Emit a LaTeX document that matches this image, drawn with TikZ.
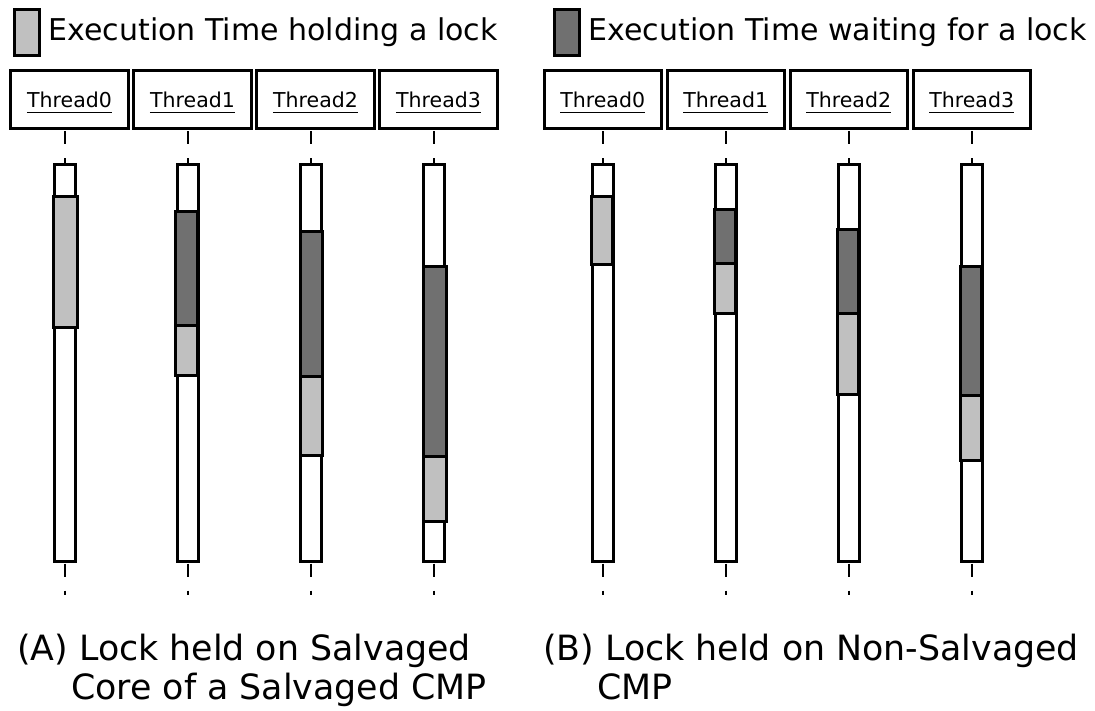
\documentclass[tikz,border=0pt]{standalone}
\usepackage{fontspec}
\setmainfont{DejaVu Sans}
\definecolor{lightg}{RGB}{192,192,192}
\definecolor{darkg}{RGB}{112,112,112}
\begin{document}
\begin{tikzpicture}[x=1pt,y=-1pt,
  whitebar/.style={draw=black, line width=3pt, fill=white},
  hold/.style={draw=black, line width=3pt, fill=lightg},
  wait/.style={draw=black, line width=3pt, fill=darkg},
  hdr/.style={draw=black, line width=3pt, fill=white, minimum height=58pt, inner sep=0pt},
  lbl/.style={inner sep=0pt, font=\fontsize{20.5}{24}\selectfont},
  ul/.style={line width=1.2pt},
  life/.style={line width=1.5pt, dash pattern=on 13pt off 14pt, dash phase=25.5pt},
  legbox/.style={draw=black, line width=3pt, minimum width=24.4pt, minimum height=46pt, inner sep=0pt},
  legtxt/.style={inner sep=0pt, anchor=base west, font=\fontsize{30}{36}\selectfont},
  captxt/.style={inner sep=0pt, anchor=base west, font=\fontsize{34.8}{41}\selectfont},
]
\useasboundingbox (0,0) rectangle (1095,711);
\fill[white] (0,0) rectangle (1095,711);

% legend
\node[legbox, fill=lightg] (lb1) at (27,32.8) {};
\node[legtxt] (lt1) at (48.5,40.7) {Execution Time holding a lock};
\node[legbox, fill=darkg] (lb2) at (567,32.8) {};
\node[legtxt] (lt2) at (588.5,40.7) {Execution Time waiting for a lock};

% lifeline end coordinates
\foreach \i/\x in {0/65,1/188,2/311,3/434}{\coordinate (le\i) at (\x,594.5);}
\foreach \i/\x in {0/603,1/726,2/849,3/972}{\coordinate (re\i) at (\x,594.5);}

% header boxes
\foreach \i/\x in {0/69.5,1/192.5,2/315.5,3/438.5}{
  \node[hdr, minimum width=118pt] (lh\i) at (\x,99.5) {};
}
\foreach \i/\x in {0/602.7,1/725.7,2/848.7,3/971.7}{
  \node[hdr, minimum width=117pt] (rh\i) at (\x,99.5) {};
}

% lifelines
\foreach \i in {0,1,2,3}{
  \draw[life] (le\i |- lh\i.south) -- (le\i);
  \draw[life] (re\i |- rh\i.south) -- (re\i);
}
% header labels
\foreach \i/\x in {0/69.5,1/192.5,2/315.5,3/438.5}{
  \node[lbl] (lt\i) at (\x,99.5) {Thread\i};
  \draw[ul] ([yshift=-5pt]lt\i.south west) -- ([yshift=-5pt]lt\i.south east);
}
\foreach \i/\x in {0/602.7,1/725.7,2/848.7,3/971.7}{
  \node[lbl] (rt\i) at (\x,99.5) {Thread\i};
  \draw[ul] ([yshift=-5pt]rt\i.south west) -- ([yshift=-5pt]rt\i.south east);
}

% white bars
\foreach \x in {65,188,311,434,603,726,849,972}{
  \draw[whitebar] (\x-10.5,164.5) rectangle (\x+10.5,561.5);
}

% panel A
\draw[hold] (65-11.2,196.5) rectangle (65+12.5,327.5);
\draw[hold] (188-12.8,326) rectangle (188+9.8,375.5);
\draw[wait] (188-12.8,211.5) rectangle (188+9.8,326);
\draw[hold] (311-10.8,376) rectangle (311+11.8,455);
\draw[wait] (311-10.8,231.5) rectangle (311+11.8,376);
\draw[hold] (434-10.8,456) rectangle (434+12.2,521.5);
\draw[wait] (434-10.8,266.5) rectangle (434+12.2,456);

% panel B
\draw[hold] (603-11.5,196.5) rectangle (603+9.5,264.5);
\draw[hold] (726-11.5,264) rectangle (726+9.5,314);
\draw[wait] (726-11.5,209.5) rectangle (726+9.5,264);
\draw[hold] (849-11.5,314) rectangle (849+9.5,394.5);
\draw[wait] (849-11.5,229.5) rectangle (849+9.5,314);
\draw[hold] (972-11.5,395) rectangle (972+9.5,460);
\draw[wait] (972-11.5,266.5) rectangle (972+9.5,395);

% captions
\node[captxt] (ca1) at (17,660) {(A) Lock held on Salvaged};
\node[captxt] (ca2) at (71,699) {Core of a Salvaged CMP};
\node[captxt] (cb1) at (543,660) {(B) Lock held on Non-Salvaged};
\node[captxt] (cb2) at (597,699) {CMP};
\end{tikzpicture}
\end{document}
